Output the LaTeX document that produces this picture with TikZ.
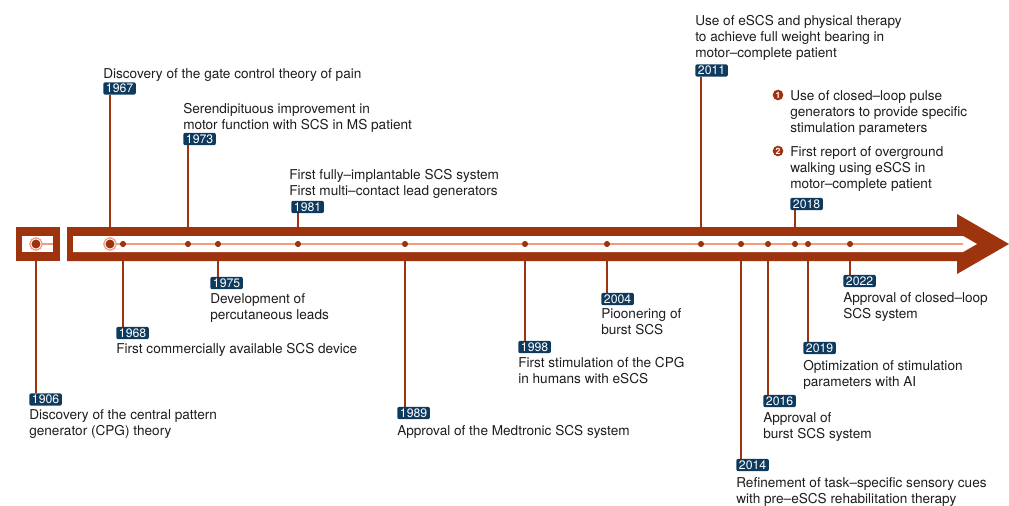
\documentclass[tikz,border=0pt]{standalone}
\usepackage{fontspec}
\setmainfont{TeX Gyre Heros}
\usetikzlibrary{backgrounds}
\definecolor{rust}{RGB}{158,52,14}
\definecolor{salmon}{RGB}{245,154,128}
\definecolor{navy}{RGB}{14,58,94}
\definecolor{ink}{RGB}{30,28,28}
\tikzset{dot/.style={inner sep=0pt, outer sep=0pt, circle, fill=rust, minimum size=4.6pt}}
\tikzset{bigdot/.style={inner sep=0pt, outer sep=0pt, circle, fill=rust, draw=white, line width=.6pt, minimum size=7.6pt, preaction={draw=salmon, line width=2.6pt}}}
\tikzset{yearbox/.style={anchor=west, fill=navy, text=white, rounded corners=1.5pt, inner xsep=2pt, inner ysep=1.3pt, font=\fontsize{9.2}{9.2}\selectfont}}
\tikzset{event/.style={anchor=north west, inner sep=0pt, align=left, text=ink, font=\fontsize{10.2}{12}\selectfont}}
\tikzset{num/.style={circle, fill=rust, text=white, inner sep=0pt, minimum size=8pt, font=\fontsize{6.5}{6.5}\selectfont\bfseries}}
\tikzset{stem/.style={color=rust, line width=1.3pt}}
\tikzset{tline/.style={color=salmon, line width=1.1pt}}

\begin{document}
\begin{tikzpicture}[x=0.75pt, y=-0.75pt]
  \useasboundingbox (0,0) rectangle (1009,506);

  \fill[rust] (16,227) rectangle (60,261);
  \fill[white] (22,236) rectangle (53,252);
  \fill[rust] (67,227) -- (957,227) -- (957,214) -- (1009,244) -- (957,274) -- (957,261) -- (67,261) -- cycle;
  \fill[white] (73,236) -- (963,236) -- (977,244) -- (963,252) -- (73,252) -- cycle;

  \coordinate (boxstart) at (36,244);
  \coordinate (boxend) at (53,244);
  \coordinate (linestart) at (110,244);
  \coordinate (lineend) at (963,244);
  \draw[tline] (boxstart) -- (boxend);
  \draw[tline] (linestart) -- (lineend);

  \node[bigdot] (d1906) at (36,244) {};
  \node[bigdot] (d1967) at (110,244) {};
  \foreach \yr/\x in {1968/123, 1973/188, 1975/218, 1981/298, 1989/405, 1998/525, 2004/607,
                      2011/701, 2014/741, 2016/768, 2018/795, 2019/808, 2022/850} {
    \node[dot] (d\yr) at (\x,244) {};
  }

  \foreach \yr/\x/\y in {1906/29/399.5, 1967/103/88.5, 1968/116/333, 1973/183/139, 1975/210/283,
                         1981/291/207, 1989/397/413, 1998/518/347, 2004/601/299, 2011/695/70.5,
                         2014/736/465, 2016/763/401, 2018/790/204, 2019/803/348, 2022/843/281} {
    \node[yearbox] (y\yr) at (\x,\y) {\yr};
  }

  \node[event] (t1906) at (29,409.5) {Discovery of the central pattern\\generator (CPG) theory};
  \node[event] (t1967) at (103,68) {Discovery of the gate control theory of pain};
  \node[event] (t1968) at (116,343) {First commercially available SCS device};
  \node[event] (t1973) at (183,103) {Serendipituous improvement in\\motor function with SCS in MS patient};
  \node[event] (t1975) at (210,293) {Development of\\percutaneous leads};
  \node[event] (t1981) at (289,169) {First fully--implantable SCS system\\First multi--contact lead generators};
  \node[event] (t1989) at (397,425) {Approval of the Medtronic SCS system};
  \node[event] (t1998) at (518,357.5) {First stimulation of the CPG\\in humans with eSCS};
  \node[event] (t2004) at (601,308) {Pioonering of\\burst SCS};
  \node[event] (t2011) at (695,15) {Use of eSCS and physical therapy\\to achieve full weight bearing in\\motor--complete patient};
  \node[event] (t2014) at (736,477) {Refinement of task--specific sensory cues\\with pre--eSCS rehabilitation therapy};
  \node[event] (t2016) at (763,412) {Approval of\\burst SCS system};
  \node[event] (t2019) at (803,360) {Optimization of stimulation\\parameters with AI};
  \node[event] (t2022) at (843,292) {Approval of closed--loop\\SCS system};

  \node[num] (n1) at (778,95) {1};
  \node[event] (t2018a) at (790,90) {Use of closed--loop pulse\\generators to provide specific\\stimulation parameters};
  \node[num] (n2) at (778,151) {2};
  \node[event] (t2018b) at (790,146) {First report of overground\\walking using eSCS in\\motor--complete patient};

  \begin{scope}[on background layer]
    \foreach \yr in {1967,1973,1981,2011,2018}
      \draw[stem] (d\yr.center) -- (d\yr |- y\yr.south);
    \foreach \yr in {1906,1968,1975,1989,1998,2004,2014,2016,2019,2022}
      \draw[stem] (d\yr.center) -- (d\yr |- y\yr.north);
  \end{scope}
\end{tikzpicture}
\end{document}
